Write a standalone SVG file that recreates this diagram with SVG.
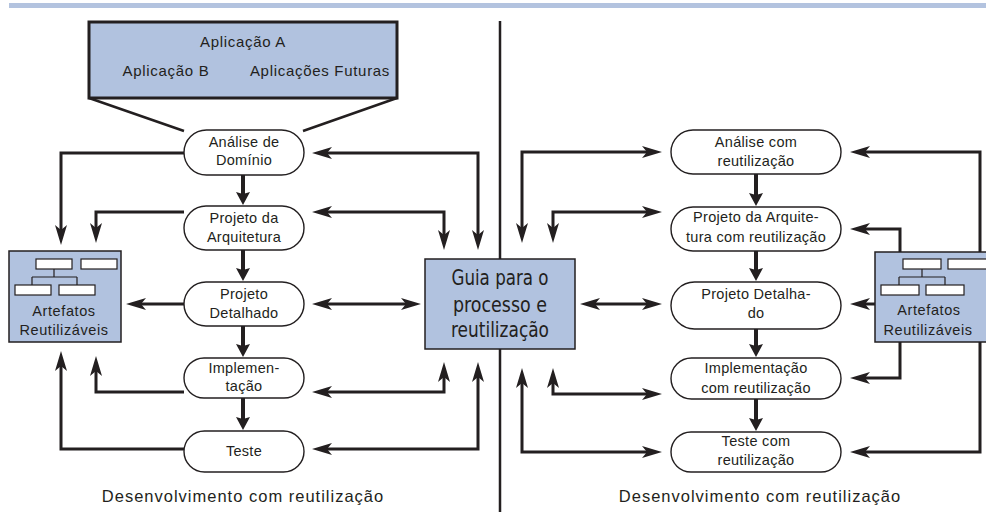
<svg xmlns="http://www.w3.org/2000/svg" width="986" height="512" viewBox="0 0 986 512">
  <style>
    .bg { fill: #ffffff; }
    .band { fill: #b3c3df; }
    .blue { fill: #b1c2df; stroke: #231f20; stroke-width: 1.5; }
    .apps { fill: #b1c2df; stroke: #231f20; stroke-width: 3; }
    .pill { fill: #ffffff; stroke: #231f20; stroke-width: 1.4; }
    .mini { fill: #ffffff; stroke: #231f20; stroke-width: 1.2; }
    .tree { fill: none; stroke: #231f20; stroke-width: 1.2; }
    .t { font-family: "Liberation Sans", Arial, sans-serif; font-size: 14.5px; fill: #231f20; text-anchor: middle; letter-spacing: 0.3px; }
    .ta { font-family: "Liberation Sans", Arial, sans-serif; font-size: 15px; fill: #231f20; text-anchor: middle; letter-spacing: 0.7px; }
    .cap { font-family: "Liberation Sans", Arial, sans-serif; font-size: 16.5px; fill: #231f20; text-anchor: middle; letter-spacing: 1px; }
    .guia { font-family: "Liberation Sans Narrow", "DejaVu Sans Condensed", "Liberation Sans", sans-serif; font-size: 22px; fill: #231f20; text-anchor: middle; }
    .link { fill: none; stroke: #231f20; stroke-width: 3; }
    .flow { fill: none; stroke: #231f20; stroke-width: 4; }
    .fan { fill: none; stroke: #231f20; stroke-width: 2.5; }
    .divider { stroke: #231f20; stroke-width: 2.5; }
  </style>
  <defs>
    <marker id="head" viewBox="0 0 20 12" refX="8" refY="6" markerWidth="20" markerHeight="12" markerUnits="userSpaceOnUse" orient="auto-start-reverse">
      <path d="M0,0 L20,6 L0,12 L5,6 z" fill="#231f20"/>
    </marker>
    <marker id="step" viewBox="0 0 13 14" refX="5" refY="7" markerWidth="13" markerHeight="14" markerUnits="userSpaceOnUse" orient="auto">
      <path d="M0,0 L13,7 L0,14 L2,7 z" fill="#231f20"/>
    </marker>
  </defs>

  <rect class="bg" x="0" y="0" width="986" height="512"/>
  <rect class="band" x="9" y="3" width="977" height="5"/>

  <!-- centre divider between the two halves -->
  <line class="divider" x1="500" y1="21" x2="500" y2="512"/>

  <!-- applications box fanning into domain analysis -->
  <g id="aplicacoes">
    <rect class="apps" x="89" y="22" width="308" height="76"/>
    <text class="ta" x="243" y="47">Aplicação A</text>
    <text class="ta" x="166" y="76">Aplicação B</text>
    <text class="ta" x="320" y="76">Aplicações Futuras</text>
    <path class="fan" d="M89,98 L184,131 M397,98 L303,131"/>
  </g>

  <!-- connectors -->
  <g id="connectors">
    <!-- left half: process steps to reusable artefacts -->
    <path class="link" marker-end="url(#head)" d="M184,153 H61 V233"/>
    <path class="link" marker-end="url(#head)" d="M184,212 H96 V231"/>
    <path class="link" marker-end="url(#head)" d="M184,304 H138"/>
    <path class="link" marker-end="url(#head)" d="M184,392 H96 V368"/>
    <path class="link" marker-end="url(#head)" d="M184,449 H61 V363"/>
    <!-- left half: process steps to the guide -->
    <path class="link" marker-start="url(#head)" marker-end="url(#head)" d="M324,153 H478 V238"/>
    <path class="link" marker-start="url(#head)" marker-end="url(#head)" d="M324,212 H444 V238"/>
    <path class="link" marker-start="url(#head)" marker-end="url(#head)" d="M324,304 H409"/>
    <path class="link" marker-start="url(#head)" marker-end="url(#head)" d="M324,392 H444 V374"/>
    <path class="link" marker-start="url(#head)" marker-end="url(#head)" d="M324,449 H478 V374"/>
    <!-- right half: guide to process steps -->
    <path class="link" marker-start="url(#head)" marker-end="url(#head)" d="M522,231 V152 H650"/>
    <path class="link" marker-start="url(#head)" marker-end="url(#head)" d="M553,231 V212 H650"/>
    <path class="link" marker-start="url(#head)" marker-end="url(#head)" d="M592,304 H650"/>
    <path class="link" marker-start="url(#head)" marker-end="url(#head)" d="M553,380 V394 H650"/>
    <path class="link" marker-start="url(#head)" marker-end="url(#head)" d="M522,380 V452 H650"/>
    <!-- right half: reusable artefacts to process steps -->
    <path class="link" marker-end="url(#head)" d="M980,252 V152 H862"/>
    <path class="link" marker-end="url(#head)" d="M900,252 V229 H862"/>
    <path class="link" marker-end="url(#head)" d="M875,304 H862"/>
    <path class="link" marker-end="url(#head)" d="M900,342 V378 H862"/>
    <path class="link" marker-end="url(#head)" d="M980,342 V452 H862"/>
    <!-- step sequence -->
    <path class="flow" marker-end="url(#step)" d="M243,175 V197"/>
    <path class="flow" marker-end="url(#step)" d="M243,250 V273"/>
    <path class="flow" marker-end="url(#step)" d="M243,326 V349"/>
    <path class="flow" marker-end="url(#step)" d="M243,398 V422"/>
    <path class="flow" marker-end="url(#step)" d="M756,174 V198"/>
    <path class="flow" marker-end="url(#step)" d="M756,251 V273"/>
    <path class="flow" marker-end="url(#step)" d="M756,329 V349"/>
    <path class="flow" marker-end="url(#step)" d="M756,399 V423"/>
  </g>

  <!-- left half nodes -->
  <g id="analise-dominio">
    <rect class="pill" x="184" y="130" width="120" height="45" rx="22.5"/>
    <text class="t" x="244" y="147">Análise de</text>
    <text class="t" x="244" y="165">Domínio</text>
  </g>
  <g id="projeto-arquitetura">
    <rect class="pill" x="184" y="206" width="120" height="44" rx="22"/>
    <text class="t" x="244" y="223">Projeto da</text>
    <text class="t" x="244" y="242">Arquitetura</text>
  </g>
  <g id="projeto-detalhado">
    <rect class="pill" x="184" y="282" width="120" height="44" rx="22"/>
    <text class="t" x="244" y="299">Projeto</text>
    <text class="t" x="244" y="318">Detalhado</text>
  </g>
  <g id="implementacao">
    <rect class="pill" x="184" y="358" width="120" height="40" rx="20"/>
    <text class="t" x="244" y="373">Implemen-</text>
    <text class="t" x="244" y="391">tação</text>
  </g>
  <g id="teste">
    <rect class="pill" x="184" y="431" width="120" height="41" rx="20.5"/>
    <text class="t" x="244" y="456">Teste</text>
  </g>
  <g id="artefatos-esq">
    <rect class="blue" x="9" y="251" width="112" height="91"/>
    <rect class="mini" x="36" y="259" width="36" height="10"/>
    <rect class="mini" x="81" y="259" width="36" height="10"/>
    <rect class="mini" x="15" y="285" width="36" height="10"/>
    <rect class="mini" x="59" y="285" width="36" height="10"/>
    <path class="tree" d="M54,269 V277 M32,277 H77 M32,277 V285 M77,277 V285"/>
    <text class="t" x="64" y="316" style="letter-spacing:0.6px">Artefatos</text>
    <text class="t" x="64" y="335" style="letter-spacing:0.6px">Reutilizáveis</text>
  </g>

  <!-- shared guide in the middle -->
  <g id="guia">
    <rect class="blue" x="425" y="259" width="150" height="90"/>
    <text class="guia" x="500" y="285" textLength="97" lengthAdjust="spacingAndGlyphs">Guia para o</text>
    <text class="guia" x="500" y="312" textLength="94" lengthAdjust="spacingAndGlyphs">processo e</text>
    <text class="guia" x="500" y="337" textLength="98" lengthAdjust="spacingAndGlyphs">reutilização</text>
  </g>

  <!-- right half nodes -->
  <g id="analise-reuso">
    <rect class="pill" x="671" y="130" width="170" height="44" rx="22"/>
    <text class="t" x="756" y="147">Análise com</text>
    <text class="t" x="756" y="166">reutilização</text>
  </g>
  <g id="arquitetura-reuso">
    <rect class="pill" x="671" y="207" width="170" height="44" rx="22"/>
    <text class="t" x="756" y="222">Projeto da Arquite-</text>
    <text class="t" x="756" y="242">tura com reutilização</text>
  </g>
  <g id="detalhado-reuso">
    <rect class="pill" x="671" y="282" width="170" height="47" rx="23.5"/>
    <text class="t" x="756" y="299">Projeto Detalha-</text>
    <text class="t" x="756" y="318">do</text>
  </g>
  <g id="implementacao-reuso">
    <rect class="pill" x="671" y="358" width="170" height="41" rx="20.5"/>
    <text class="t" x="756" y="373">Implementação</text>
    <text class="t" x="756" y="393">com reutilização</text>
  </g>
  <g id="teste-reuso">
    <rect class="pill" x="671" y="432" width="170" height="40" rx="20"/>
    <text class="t" x="756" y="446">Teste com</text>
    <text class="t" x="756" y="465">reutilização</text>
  </g>
  <g id="artefatos-dir">
    <rect class="blue" x="875" y="252" width="120" height="90"/>
    <rect class="mini" x="903" y="259" width="38" height="10"/>
    <rect class="mini" x="948" y="259" width="40" height="10"/>
    <rect class="mini" x="881" y="285" width="38" height="10"/>
    <rect class="mini" x="926" y="285" width="38" height="10"/>
    <path class="tree" d="M922,269 V277 M899,277 H945 M899,277 V285 M945,277 V285"/>
    <text class="t" x="929" y="315" style="letter-spacing:0.6px">Artefatos</text>
    <text class="t" x="928" y="335" style="letter-spacing:0.6px">Reutilizáveis</text>
  </g>

  <!-- captions -->
  <text class="cap" x="243" y="502">Desenvolvimento com reutilização</text>
  <text class="cap" x="760" y="502">Desenvolvimento com reutilização</text>
</svg>
